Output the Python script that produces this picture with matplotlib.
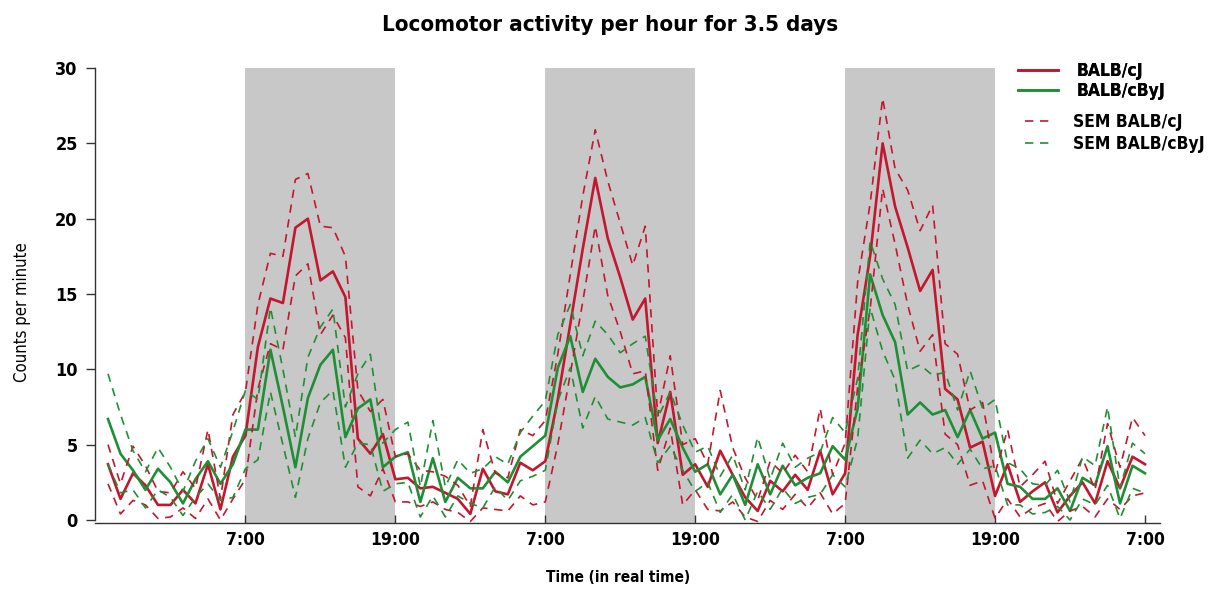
import matplotlib
matplotlib.use("Agg")
import matplotlib.pyplot as plt
import numpy as np

# condensed sans, close to the narrow Helvetica of the original
plt.rcParams['font.family'] = ['DejaVu Sans']
plt.rcParams['font.stretch'] = 'condensed'

# --- hourly means (counts per minute), 84 hours starting 20:00 ---
cj_mean = [3.7, 1.4, 3.1, 2.3, 1.0, 1.0, 2.0, 1.1, 3.7, 0.7, 4.2, 5.6,
           11.5, 14.7, 14.4, 19.4, 20.0, 15.9, 16.5, 14.8, 5.4, 4.4, 5.7, 2.7,
           2.8, 2.1, 2.2, 1.8, 1.4, 0.4, 3.4, 1.9, 1.7, 3.8, 3.3, 3.9,
           8.0, 13.0, 18.0, 22.7, 18.7, 16.1, 13.3, 14.7, 5.1, 8.5, 3.0, 3.7,
           2.2, 4.6, 3.0, 1.5, 0.6, 2.6, 1.9, 3.0, 2.0, 4.6, 1.7, 3.1,
           12.3, 17.5, 25.0, 20.8, 18.1, 15.2, 16.6, 8.7, 8.0, 4.8, 5.2, 1.6,
           3.7, 1.2, 1.9, 2.5, 0.5, 1.6, 2.5, 1.1, 3.9, 2.1, 4.2, 3.7]
cbyj_mean = [6.7, 4.4, 3.3, 2.0, 3.4, 2.5, 1.1, 2.7, 3.9, 2.4, 3.7, 6.0,
             6.0, 11.3, 7.5, 3.5, 8.1, 10.3, 11.3, 5.5, 7.4, 8.0, 3.5, 4.2,
             4.5, 1.2, 4.1, 1.2, 2.8, 2.1, 2.1, 3.2, 2.5, 4.2, 4.9, 5.6,
             10.1, 12.2, 8.5, 10.7, 9.5, 8.8, 9.0, 9.5, 5.3, 6.7, 4.8, 3.2,
             3.7, 1.7, 3.0, 1.0, 3.7, 1.7, 3.6, 2.3, 2.8, 3.1, 4.9, 4.0,
             7.4, 16.3, 13.6, 11.8, 7.0, 7.8, 7.0, 7.3, 5.5, 7.3, 5.4, 5.8,
             2.4, 2.2, 1.4, 1.4, 2.1, 0.6, 2.8, 2.3, 4.9, 1.1, 3.6, 3.1]

# --- standard errors ---
cj_sem = [1.3, 1.0, 1.8, 1.3, 0.9, 0.8, 1.2, 1.0, 2.3, 0.7, 2.8, 2.9,
          2.8, 3.0, 3.1, 3.2, 3.0, 3.6, 2.9, 2.7, 3.2, 2.8, 2.3, 1.5,
          1.6, 1.2, 1.0, 1.1, 0.9, 0.5, 2.6, 1.2, 1.1, 2.2, 2.3, 2.7,
          3.0, 3.3, 3.5, 3.2, 3.8, 3.6, 3.6, 4.8, 1.8, 2.4, 2.0, 1.7,
          1.5, 4.0, 1.8, 1.3, 0.7, 1.3, 1.2, 1.3, 1.2, 2.8, 1.3, 2.0,
          3.5, 3.5, 3.0, 2.5, 3.8, 4.0, 4.3, 3.0, 3.0, 2.5, 2.6, 1.5,
          2.3, 1.0, 1.1, 1.4, 0.6, 1.0, 1.6, 0.9, 2.5, 1.4, 2.6, 1.9]
cbyj_sem = [3.0, 2.6, 1.3, 1.2, 1.4, 1.0, 0.8, 1.2, 1.5, 1.1, 2.2, 2.6,
            2.0, 2.8, 2.5, 2.0, 2.7, 2.5, 2.7, 2.0, 2.3, 3.0, 1.6, 1.8,
            2.0, 1.0, 2.5, 1.0, 1.2, 1.0, 1.3, 1.0, 1.2, 1.6, 2.0, 2.3,
            2.2, 2.1, 2.4, 2.5, 2.8, 2.3, 2.7, 2.7, 1.5, 1.8, 1.5, 1.3,
            1.2, 1.2, 1.3, 1.0, 1.8, 1.0, 1.5, 1.2, 1.3, 1.4, 1.9, 1.8,
            2.0, 2.2, 2.4, 2.5, 2.9, 2.5, 2.6, 2.5, 1.8, 2.6, 2.0, 2.2,
            1.4, 1.2, 1.0, 0.9, 1.2, 0.6, 1.4, 1.3, 2.6, 1.0, 1.5, 1.3]

# hour index of clock ticks and of dark-phase starts
tick_hours = [11, 23, 35, 47, 59, 71, 83]
tick_labels = ["7:00", "19:00", "7:00", "19:00", "7:00", "19:00", "7:00"]
shade_start = [11, 35, 59]
shade_len = 12

red = "#c4162f"
green = "#1f8f35"

hours = np.arange(len(cj_mean))
cj_mean = np.array(cj_mean)
cbyj_mean = np.array(cbyj_mean)
cj_sem = np.array(cj_sem)
cbyj_sem = np.array(cbyj_sem)

fig = plt.figure(figsize=(12.13, 5.9), dpi=100)
ax = fig.add_axes([95 / 1213, 1 - 523 / 590, (1160 - 95) / 1213, (523 - 68) / 590])

for s in shade_start:
    ax.axvspan(s, s + shade_len, color="#c8c8c8", lw=0, zorder=0)

dash = (0, (5, 4))
l1, = ax.plot(hours, cj_mean, color=red, lw=1.9, label="BALB/cJ")
l2, = ax.plot(hours, cbyj_mean, color=green, lw=1.9, label="BALB/cByJ")
d1, = ax.plot(hours, cj_mean + cj_sem, color=red, lw=1.2, ls=dash, label="SEM BALB/cJ")
ax.plot(hours, cj_mean - cj_sem, color=red, lw=1.2, ls=dash)
d2, = ax.plot(hours, cbyj_mean + cbyj_sem, color=green, lw=1.2, ls=dash, label="SEM BALB/cByJ")
ax.plot(hours, cbyj_mean - cbyj_sem, color=green, lw=1.2, ls=dash)

ax.set_xlim(-1.04, 84.2)
ax.set_ylim(-0.2, 30)

ax.spines["top"].set_visible(False)
ax.spines["right"].set_visible(False)
ax.spines["left"].set_bounds(0, 30)
for sp in ("left", "bottom"):
    ax.spines[sp].set_linewidth(1.0)
    ax.spines[sp].set_color("#333333")

ax.set_yticks(range(0, 31, 5))
ax.set_xticks(tick_hours)
ax.set_xticklabels(tick_labels)
ax.tick_params(axis="y", direction="out", length=6.5, width=1.0, pad=6,
               labelsize=13, color="#333333")
ax.tick_params(axis="x", direction="in", length=6, width=1.0, pad=6,
               labelsize=12.5, color="#333333")
for lab in ax.get_xticklabels() + ax.get_yticklabels():
    lab.set_fontweight("bold")

fig.text(22 / 1213, 1 - 312 / 590, "Counts per minute", rotation=90,
         ha="center", va="center", fontsize=12)
fig.text(618 / 1213, 1 - 578 / 590, "Time (in real time)", ha="center",
         va="center", fontsize=11, fontweight="bold")
fig.text(610 / 1213, 1 - 25 / 590, "Locomotor activity per hour for 3.5 days",
         ha="center", va="center", fontsize=16, fontweight="bold")

leg1 = fig.legend(handles=[l1, l2], loc="upper left",
                  bbox_to_anchor=(1018 / 1213, 1 - 62 / 590), frameon=False,
                  borderpad=0, borderaxespad=0,
                  handlelength=2.3, handletextpad=1.1,
                  labelspacing=0.1, prop={"weight": "bold", "size": 12.5})
leg2 = fig.legend(handles=[d1, d2], loc="upper left",
                  bbox_to_anchor=(1025 / 1213, 1 - 113 / 590), frameon=False,
                  borderpad=0, borderaxespad=0,
                  handlelength=1.55, handletextpad=1.2,
                  labelspacing=0.25, prop={"weight": "bold", "size": 12.5})
fig.add_artist(leg1)

fig.savefig("out.png", dpi=100)
